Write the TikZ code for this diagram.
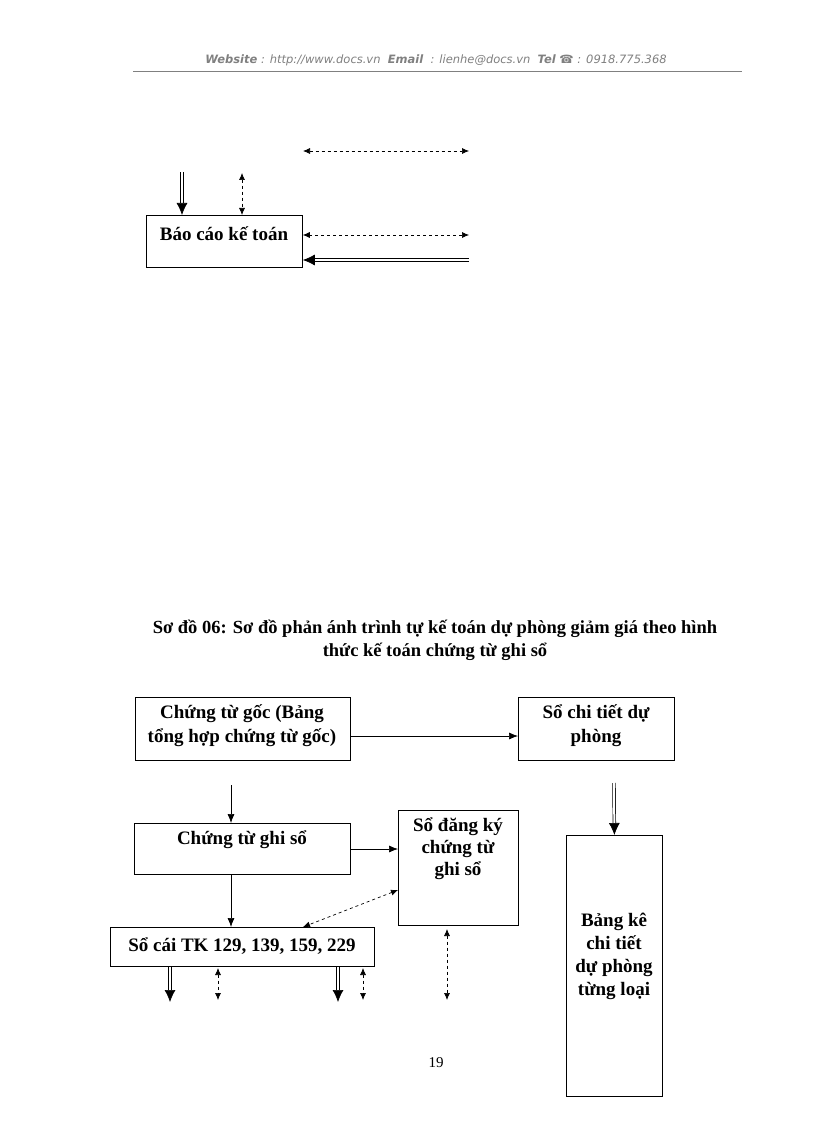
\documentclass[tikz,border=0pt]{standalone}
\usepackage{fontspec}
\setmainfont{Liberation Serif}
\newfontfamily\hdr{DejaVu Sans}
\usetikzlibrary{arrows.meta}
\begin{document}
\begin{tikzpicture}[x=1pt,y=-1pt,
  bx/.style={draw,thick,inner sep=0pt},
  lbl/.style={font=\bfseries\fontsize{19}{24}\selectfont,align=center},
  ar/.style={-{Latex[length=9pt,width=7pt]},line width=0.7pt},
  dd/.style={{Latex[length=7pt,width=6pt]}-{Latex[length=7pt,width=6pt]},dashed,line width=0.7pt},
  dbl/.style={-{Latex[length=12pt,width=11pt]},double,double distance=2pt,line width=0.7pt}]
\useasboundingbox (0,0) rectangle (816,1123);
\fill[white] (0,0) rectangle (816,1123);
% header
\node[font=\hdr\itshape\fontsize{11.5}{13}\selectfont,text=gray] (hd) at (436,60)
 {\textbf{Website} : http://www.docs.vn\ \ \textbf{Email}\ \ : lienhe@docs.vn\ \ \textbf{Tel} \textbf{☎} : 0918.775.368};
\draw[gray,line width=0.8pt] (133,71) -- (742,71);
% top fragment
\node[bx,minimum width=156,minimum height=52,anchor=north west] (bc) at (146,215) {};
\node[lbl] (bct) at (224,234) {Báo cáo kế toán};
\coordinate (t1) at (303,151); \coordinate (t2) at (469,151);
\draw[dd] (t1) -- (t2);
\coordinate (t3) at (182,172); \draw[dbl] (t3) -- (bc.north -| t3);
\coordinate (t4) at (242,173); \draw[dd] (t4) -- (bc.north -| t4);
\coordinate (t5) at (469,235); \draw[dd] (bc.east |- t5) -- (t5);
\coordinate (t6) at (469,260); \draw[dbl] (t6) -- (bc.east |- t6);
% title
\node[lbl,font=\bfseries\fontsize{18.5}{23}\selectfont] (title) at (435,640)
 {Sơ đồ 06: Sơ đồ phản ánh trình tự kế toán dự phòng giảm giá theo hình\\thức kế toán chứng từ ghi sổ};
% boxes
\node[bx,minimum width=215,minimum height=63,anchor=north west] (A) at (135,697) {};
\node[lbl] at (242,726) {Chứng từ gốc (Bảng\\tổng hợp chứng từ gốc)};
\node[bx,minimum width=156,minimum height=63,anchor=north west] (B) at (518,697) {};
\node[lbl] at (596,726) {Sổ chi tiết dự\\phòng};
\node[bx,minimum width=216,minimum height=51,anchor=north west] (C) at (134,823) {};
\node[lbl] at (242,840) {Chứng từ ghi sổ};
\node[bx,minimum width=120,minimum height=115,anchor=north west] (D) at (398,810) {};
\node[lbl,font=\bfseries\fontsize{19}{22}\selectfont] at (458,849) {Sổ đăng ký\\chứng từ\\ghi sổ};
\node[bx,minimum width=264,minimum height=39,anchor=north west] (E) at (110,927) {};
\node[lbl] at (242,946) {Sổ cái TK 129, 139, 159, 229};
\node[bx,minimum width=96,minimum height=261,anchor=north west] (F) at (566,835) {};
\node[lbl,font=\bfseries\fontsize{19}{23}\selectfont] at (614,956) {Bảng kê\\chi tiết\\dự phòng\\từng loại};
% connectors
\coordinate (y1) at (0,736); \draw[ar] (A.east |- y1) -- (B.west |- y1);
\coordinate (c0) at (231,785); \draw[ar] (c0) -- (C.north -| c0);
\coordinate (y2) at (0,849); \draw[ar] (C.east |- y2) -- (D.west |- y2);
\draw[ar] (C.south -| c0) -- (E.north -| c0);
\coordinate (d1) at (398,890); \coordinate (e1) at (303,927);
\draw[dd] (d1) -- (e1);
\coordinate (f0) at (614,783); \draw[dbl] (f0) -- (F.north);
\coordinate (b1) at (170,1002); \draw[dbl] (E.south -| b1) -- (b1);
\coordinate (b2) at (338,1002); \draw[dbl] (E.south -| b2) -- (b2);
\coordinate (b3) at (218,1000); \coordinate (b3t) at (218,968); \draw[dd] (b3t) -- (b3);
\coordinate (b4) at (363,1000); \coordinate (b4t) at (363,968); \draw[dd] (b4t) -- (b4);
\coordinate (b5) at (447,1000); \coordinate (b5t) at (447,929); \draw[dd] (b5t) -- (b5);
\node[font=\fontsize{15}{17}\selectfont] (pg) at (436,1063) {19};
\end{tikzpicture}
\end{document}
